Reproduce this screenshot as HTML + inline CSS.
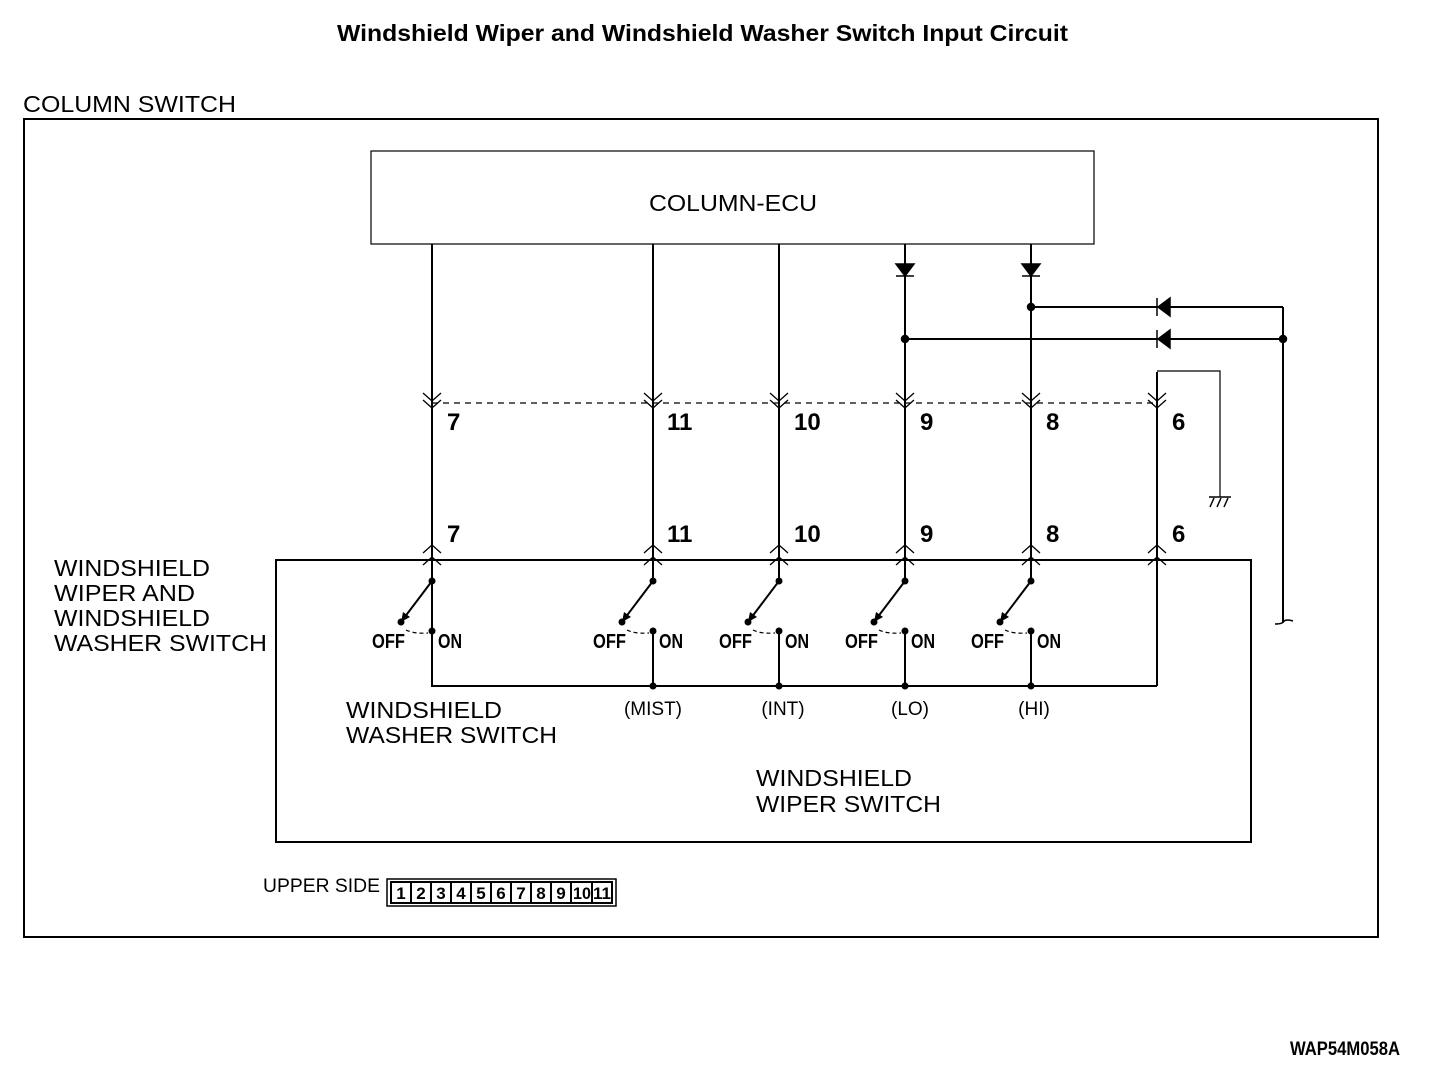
<!DOCTYPE html>
<html><head><meta charset="utf-8"><style>
html,body{margin:0;padding:0;background:#fff;}
svg{display:block;}
text{font-family:"Liberation Sans",sans-serif;fill:#000;}
.n{font-weight:bold;font-size:24px;}
.sw{font-weight:bold;font-size:20px;}
.l{font-size:23px;}
</style></head><body>
<svg width="1440" height="1068" viewBox="0 0 1440 1068" xmlns="http://www.w3.org/2000/svg">
<text x="337" y="41" font-size="23" font-weight="bold" textLength="731" lengthAdjust="spacingAndGlyphs">Windshield Wiper and Windshield Washer Switch Input Circuit</text>
<text x="23" y="112" class="l" textLength="213" lengthAdjust="spacingAndGlyphs">COLUMN SWITCH</text>
<rect x="24" y="119" width="1354" height="818" fill="none" stroke="#000" stroke-width="2"/>
<rect x="371" y="151" width="723" height="93" fill="none" stroke="#000" stroke-width="1.2"/>
<text x="649" y="211" class="l" textLength="168" lengthAdjust="spacingAndGlyphs">COLUMN-ECU</text>
<rect x="276" y="560" width="975" height="282" fill="none" stroke="#000" stroke-width="2"/>

<g stroke="#000" stroke-width="2" fill="none">
<line x1="432" y1="244" x2="432" y2="686"/>
<line x1="653" y1="244" x2="653" y2="581"/>
<line x1="779" y1="244" x2="779" y2="581"/>
<line x1="905" y1="244" x2="905" y2="581"/>
<line x1="1031" y1="244" x2="1031" y2="581"/>
<line x1="1157" y1="372" x2="1157" y2="686"/>
<polyline points="1157,371 1220,371 1220,497" stroke-width="1.2"/>
<line x1="1283" y1="307" x2="1283" y2="622"/>
<path d="M1275,624 Q1283,624 1284,621 Q1287,619 1293,621" stroke-width="1.5"/>
<line x1="1031" y1="307" x2="1283" y2="307"/>
<line x1="905" y1="339" x2="1283" y2="339"/>
<polyline points="432,631 432,686 1157,686"/>
<line x1="653" y1="631" x2="653" y2="686"/>
<line x1="779" y1="631" x2="779" y2="686"/>
<line x1="905" y1="631" x2="905" y2="686"/>
<line x1="1031" y1="631" x2="1031" y2="686"/>
</g>
<g stroke="#000" stroke-width="1.5">
<line x1="1209" y1="497" x2="1231" y2="497"/>
<line x1="1210" y1="507" x2="1214" y2="498"/>
<line x1="1217" y1="507" x2="1221" y2="498"/>
<line x1="1224" y1="507" x2="1228" y2="498"/>
</g>
<line x1="432" y1="403" x2="1157" y2="403" stroke="#000" stroke-width="1.2" stroke-dasharray="6,5"/>
<g fill="#000" stroke="#000" stroke-width="1.5">
<polygon points="896,264 914,264 905,276"/><line x1="896" y1="276" x2="914" y2="276"/>
<polygon points="1022,264 1040,264 1031,276"/><line x1="1022" y1="276" x2="1040" y2="276"/>
<polygon points="1170,298 1170,316 1158,307"/><line x1="1157" y1="298" x2="1157" y2="316"/>
<polygon points="1170,330 1170,348 1158,339"/><line x1="1157" y1="330" x2="1157" y2="348"/>
<circle cx="1031" cy="307" r="3.5"/><circle cx="905" cy="339" r="3.5"/><circle cx="1283" cy="339" r="3.5"/>
</g>
<g stroke="#000" stroke-width="1.3" fill="none">
<path id="cd" d="M423,393 L432,401 L441,393 M423,400 L432,408 L441,400"/>
<use href="#cd" x="221"/><use href="#cd" x="347"/><use href="#cd" x="473"/><use href="#cd" x="599"/><use href="#cd" x="725"/>
<path id="cu" d="M423,553 L432,545 L441,553 M423,565 L432,557 L441,565"/>
<use href="#cu" x="221"/><use href="#cu" x="347"/><use href="#cu" x="473"/><use href="#cu" x="599"/><use href="#cu" x="725"/>
</g>
<g class="n">
<text x="447" y="430" class="n">7</text><text x="667" y="430" class="n">11</text><text x="794" y="430" class="n">10</text>
<text x="920" y="430" class="n">9</text><text x="1046" y="430" class="n">8</text><text x="1172" y="430" class="n">6</text>
<text x="447" y="542" class="n">7</text><text x="667" y="542" class="n">11</text><text x="794" y="542" class="n">10</text>
<text x="920" y="542" class="n">9</text><text x="1046" y="542" class="n">8</text><text x="1172" y="542" class="n">6</text>
</g>
<g id="sw">
<line x1="432" y1="581" x2="401" y2="622" stroke="#000" stroke-width="2"/>
<polygon points="401,622 403,612 410,617" fill="#000"/>
<circle cx="432" cy="581" r="3.5"/><circle cx="401" cy="622" r="3.5"/><circle cx="432" cy="631" r="3.5"/>
<path d="M406,630 Q414,634 428,633" stroke="#000" stroke-width="1.2" fill="none" stroke-dasharray="4,3"/>
<text x="372" y="648" class="sw" textLength="33" lengthAdjust="spacingAndGlyphs">OFF</text>
<text x="438" y="648" class="sw" textLength="24" lengthAdjust="spacingAndGlyphs">ON</text>
</g>
<use href="#sw" x="221"/><use href="#sw" x="347"/><use href="#sw" x="473"/><use href="#sw" x="599"/>
<g fill="#000"><circle cx="653" cy="686" r="3.5"/><circle cx="779" cy="686" r="3.5"/><circle cx="905" cy="686" r="3.5"/><circle cx="1031" cy="686" r="3.5"/></g>
<g font-size="19" text-anchor="middle">
<text x="653" y="715">(MIST)</text><text x="783" y="715">(INT)</text><text x="910" y="715">(LO)</text><text x="1034" y="715">(HI)</text>
</g>
<g class="l">
<text x="54" y="576" class="l" textLength="156" lengthAdjust="spacingAndGlyphs">WINDSHIELD</text>
<text x="54" y="601" class="l" textLength="141" lengthAdjust="spacingAndGlyphs">WIPER AND</text>
<text x="54" y="626" class="l" textLength="156" lengthAdjust="spacingAndGlyphs">WINDSHIELD</text>
<text x="54" y="651" class="l" textLength="213" lengthAdjust="spacingAndGlyphs">WASHER SWITCH</text>
<text x="346" y="718" class="l" textLength="156" lengthAdjust="spacingAndGlyphs">WINDSHIELD</text>
<text x="346" y="743" class="l" textLength="211" lengthAdjust="spacingAndGlyphs">WASHER SWITCH</text>
<text x="756" y="786" class="l" textLength="156" lengthAdjust="spacingAndGlyphs">WINDSHIELD</text>
<text x="756" y="812" class="l" textLength="185" lengthAdjust="spacingAndGlyphs">WIPER SWITCH</text>
</g>
<text x="263" y="892" font-size="19" textLength="117" lengthAdjust="spacingAndGlyphs">UPPER SIDE</text>
<rect x="387" y="879" width="229" height="27" fill="none" stroke="#000" stroke-width="1.5"/>
<rect x="391" y="882" width="221" height="21" fill="none" stroke="#000" stroke-width="2"/>
<g stroke="#000" stroke-width="2">
<line x1="411" y1="882" x2="411" y2="903"/><line x1="431" y1="882" x2="431" y2="903"/><line x1="451" y1="882" x2="451" y2="903"/>
<line x1="471" y1="882" x2="471" y2="903"/><line x1="491" y1="882" x2="491" y2="903"/><line x1="511" y1="882" x2="511" y2="903"/>
<line x1="531" y1="882" x2="531" y2="903"/><line x1="551" y1="882" x2="551" y2="903"/><line x1="571" y1="882" x2="571" y2="903"/>
<line x1="592" y1="882" x2="592" y2="903"/>
</g>
<g font-size="17" font-weight="bold" text-anchor="middle">
<text x="401" y="899">1</text><text x="421" y="899">2</text><text x="441" y="899">3</text><text x="461" y="899">4</text>
<text x="481" y="899">5</text><text x="501" y="899">6</text><text x="521" y="899">7</text><text x="541" y="899">8</text>
<text x="561" y="899">9</text><text x="582" y="899" textLength="18" lengthAdjust="spacingAndGlyphs">10</text><text x="602" y="899" textLength="18" lengthAdjust="spacingAndGlyphs">11</text>
</g>
<text x="1290" y="1055" font-size="19" font-weight="bold" textLength="110" lengthAdjust="spacingAndGlyphs">WAP54M058A</text>
</svg>
</body></html>
